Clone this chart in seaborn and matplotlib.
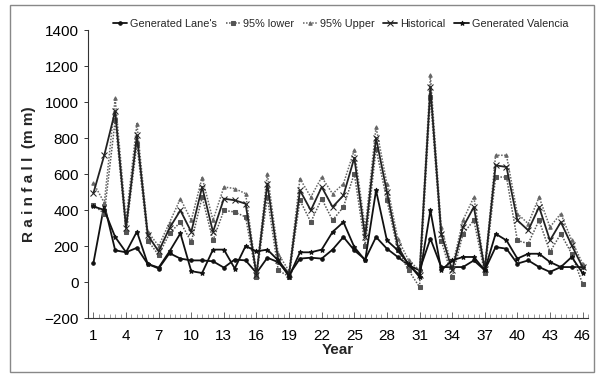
import numpy as np
import pandas as pd
import matplotlib
matplotlib.use("Agg")
import matplotlib.pyplot as plt
import seaborn as sns
from matplotlib.patches import Rectangle

years = list(range(1, 47))

lanes = [106, 430, 176, 165, 190, 100, 75, 160, 130, 120, 120, 115, 80, 125, 120, 50,
         135, 110, 40, 130, 135, 130, 180, 250, 176, 125, 250, 185, 139, 93, 65, 241,
         83, 83, 83, 120, 65, 194, 185, 102, 120, 83, 56, 83, 83, 83]
lower95 = [427, 380, 898, 278, 768, 230, 150, 270, 333, 222, 472, 231, 398, 389, 361, 30,
           472, 65, 30, 454, 333, 463, 343, 417, 602, 200, 740, 454, 176, 65, -28, 1028,
           230, 28, 268, 343, 50, 583, 583, 231, 213, 343, 167, 268, 157, -10]
upper95 = [550, 440, 1020, 345, 880, 280, 200, 330, 463, 343, 580, 343, 528, 519, 491, 50,
           602, 157, 60, 574, 472, 583, 490, 546, 733, 300, 861, 546, 240, 120, 65, 1148,
           305, 83, 343, 472, 80, 704, 704, 380, 324, 472, 305, 380, 231, 102]
historical = [494, 705, 950, 300, 815, 260, 170, 300, 398, 278, 528, 278, 463, 454, 435, 40,
              546, 120, 45, 509, 398, 528, 417, 481, 690, 250, 800, 500, 200, 93, 40, 1083,
              268, 65, 305, 417, 70, 648, 639, 343, 287, 417, 231, 333, 204, 83]
valencia = [420, 400, 250, 165, 280, 100, 80, 170, 270, 60, 50, 180, 180, 75, 200, 170,
            180, 120, 30, 165, 165, 180, 278, 333, 194, 120, 509, 231, 176, 100, 28, 398,
            65, 120, 139, 139, 65, 268, 231, 130, 157, 157, 111, 83, 139, 50]

series_names = ["Generated Lane's", "95% lower", "95% Upper", "Historical", "Generated Valencia"]
series_vals = [lanes, lower95, upper95, historical, valencia]
xtick_labels = [str(v) for v in range(1, 47, 3)]

styles = {
    "Generated Lane's": dict(marker="o", markersize=2.5, linestyle="-", lw=1.3, color="#111111"),
    "95% lower": dict(marker="s", markersize=2.2, linestyle=(0, (1, 1)), lw=1.1, color="#555555"),
    "95% Upper": dict(marker="^", markersize=2.5, linestyle=(0, (1, 1)), lw=1.1, color="#666666"),
    "Historical": dict(marker="x", markersize=4, linestyle="-", lw=1.3, color="#222222"),
    "Generated Valencia": dict(marker="*", markersize=3.5, linestyle="-", lw=1.3, color="#111111"),
}

sns.set_theme(style="white")
plt.rcParams["font.family"] = ["Liberation Sans", "DejaVu Sans"]

fig = plt.figure(figsize=(5.96, 3.75), dpi=100)
ax = fig.add_axes([88 / 596, 57 / 375, (588 - 88) / 596, (318 - 30) / 375])

for name, vals in zip(series_names, series_vals):
    df = pd.DataFrame({"Year": years, "Rainfall": vals})
    st = styles[name]
    sns.lineplot(data=df, x="Year", y="Rainfall", ax=ax, label=name,
                 color=st["color"], marker=st["marker"], markersize=st["markersize"],
                 linestyle=st["linestyle"], linewidth=st["lw"],
                 markeredgecolor=st["color"], markerfacecolor=st["color"])

ax.set_xlim(0.5, 46.5)
ax.set_ylim(-200, 1400)
ax.set_yticks(range(-200, 1401, 200))
ax.set_xticks(list(range(1, 47, 3)))
ax.set_xticklabels(xtick_labels)
ax.set_xticks(np.arange(0.5, 46.6, 0.5), minor=True)

for s in ["top", "right"]:
    ax.spines[s].set_visible(False)
for s in ["left", "bottom"]:
    ax.spines[s].set_color("#333333")
    ax.spines[s].set_linewidth(0.8)

ax.tick_params(axis="y", which="major", direction="out", length=3, width=0.7,
               colors="#333333", labelsize=11, labelcolor="black", left=True)
ax.tick_params(axis="x", which="major", direction="in", length=4, width=0.6,
               colors="#555555", labelsize=11, labelcolor="black", bottom=True, pad=8)
ax.tick_params(axis="x", which="minor", direction="in", length=3, width=0.5,
               colors="#777777", bottom=True)

ax.set_ylabel("R a i n f a l l  (m m)", fontsize=11, fontweight="bold", labelpad=6)
ax.set_xlabel("Year", fontsize=11, fontweight="bold", labelpad=0)
ax.grid(False)

leg = ax.legend(loc="center", bbox_to_anchor=(0.505, 1.02), ncol=5, frameon=False,
                fontsize=7.8, handlelength=1.3, handletextpad=0.3, columnspacing=0.8,
                borderaxespad=0, borderpad=0)

fig.patches.append(Rectangle((10 / 596, 3 / 375), 584 / 596, 367 / 375,
                             transform=fig.transFigure, fill=False,
                             edgecolor="#888888", linewidth=1.0))

fig.savefig("out.png", dpi=100)
